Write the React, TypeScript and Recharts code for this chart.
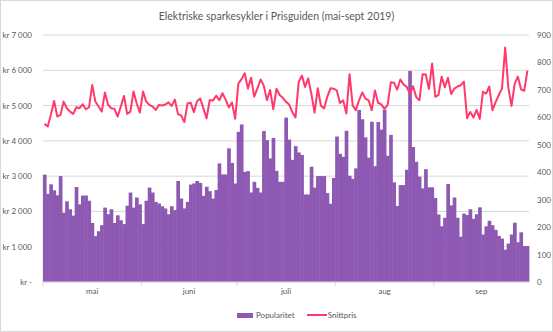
import React from "react";
import { ComposedChart, Bar, Line, XAxis, YAxis, CartesianGrid } from "recharts";

const monthNames = ["mai", "juni", "juli", "aug", "sep"];
const monthNumbers = [5, 6, 7, 8, 9];
const monthDays = [31, 30, 31, 31, 30];

// daily popularity (right axis)
const popularitet = [
  391, 321, 356, 334, 316, 386, 252, 294, 265, 242,
  346, 283, 315, 315, 296, 215, 167, 185, 207, 271,
  247, 265, 215, 243, 225, 211, 278, 326, 271, 308,
  283, 211, 296, 344, 326, 292, 286, 276, 268, 247,
  276, 262, 368, 304, 268, 292, 355, 359, 368, 361,
  314, 347, 331, 304, 335, 432, 392, 392, 487, 434,
  359, 547, 574, 401, 404, 326, 365, 343, 326, 550,
  517, 450, 525, 405, 365, 365, 599, 519, 445, 495,
  472, 463, 319, 319, 420, 344, 386, 386, 386, 324,
  285, 379, 530, 467, 456, 551, 387, 376, 414, 627,
  593, 527, 453, 584, 422, 583, 555, 628, 460, 536,
  363, 277, 353, 353, 409, 769, 492, 438, 384, 341,
  411, 345, 345, 306, 246, 203, 234, 357, 279, 308,
  234, 165, 249, 244, 265, 230, 247, 272, 173, 203,
  223, 207, 190, 168, 158, 118, 140, 173, 216, 145,
  181, 131, 131,
];

// daily average price in kr (left axis)
const snittpris = [
  4481, 4406, 4750, 5132, 4689, 4736, 5113, 4925, 4830, 4764,
  4953, 4925, 5038, 4896, 4953, 5585, 5113, 4972, 4830, 5368,
  5019, 4925, 4906, 4689, 4972, 5274, 4764, 4830, 5396, 5066,
  4802, 5396, 5113, 5019, 4972, 4877, 5019, 5000, 5030, 5090,
  4990, 5170, 4760, 4720, 4530, 5060, 5080, 4815, 5125, 5200,
  4920, 4636, 5160, 5140, 5280, 5150, 5350, 5170, 4950, 5085,
  4625, 5620, 5750, 5915, 5480, 5790, 5255, 5485, 5740, 5565,
  5155, 5440, 4895, 5475, 5300, 5220, 5105, 5030, 4810, 4664,
  5670, 5850, 5530, 5770, 5320, 4800, 5490, 4995, 4918, 5247,
  5490, 5480, 5430, 5075, 5150, 4776, 5890, 5000, 4870, 5150,
  5370, 5196, 5150, 4870, 5430, 5080, 5035, 4908, 5020, 5660,
  5650, 5450, 5740, 5600, 5530, 5330, 5550, 5240, 5150, 5890,
  5880, 5470, 6190, 5250, 5295, 5820, 5520, 5785, 5325, 5480,
  5540, 5575, 5680, 4640, 4820, 4660, 4880, 4620, 5390, 5340,
  5540, 4870, 5100, 5300, 5480, 6645, 5500, 4990, 5620, 5820,
  5460, 5420, 5990,
];

const krTicks = [0, 1000, 2000, 3000, 4000, 5000, 6000, 7000];
const popTicks = [0, 100, 200, 300, 400, 500, 600, 700, 800, 900];

const days = monthDays.flatMap((n, m) =>
  Array.from({ length: n }, (_, d) => `${d + 1}.${monthNumbers[m]}`)
);
const data = days.map((day, i) => ({
  day,
  Popularitet: popularitet[i],
  Snittpris: snittpris[i],
}));
const monthStarts = monthNumbers.map((m) => `1.${m}`);

const W = 553;
const H = 332;
const LEFT_W = 43;
const RIGHT_W = 24;
const BAND = (W - LEFT_W - RIGHT_W) / data.length;

const TEXT = "#595959";
const GRID = "#d9d9d9";
const PURPLE = "#8d59b3";
const RED = "#ff3a6a";

const fmtKr = (v: number) =>
  v === 0 ? "kr -" : "kr " + String(v).replace(/\B(?=(\d{3})+(?!\d))/g, "\u00a0");

function MonthTick({ x, y, payload }: any) {
  const m = monthStarts.indexOf(payload.value);
  const x0 = x - BAND / 2;
  const cx = x0 + (monthDays[m] * BAND) / 2;
  return (
    <g>
      <line x1={x0} x2={x0} y1={y} y2={y + 4} stroke={GRID} />
      <text x={cx} y={y + 12} textAnchor="middle" fill={TEXT} fontSize={8}>
        {monthNames[m]}
      </text>
    </g>
  );
}

function KrTick({ x, y, payload }: any) {
  return (
    <text x={x} y={y + 3} textAnchor="end" fill={TEXT} fontSize={8}>
      {fmtKr(payload.value)}
    </text>
  );
}

function PopTick({ x, y, payload }: any) {
  return (
    <text x={x} y={y + 3} textAnchor="start" fill={TEXT} fontSize={8}>
      {payload.value}
    </text>
  );
}

// gap width 0: fill the whole day band, with a small overlap so no seams show
function DayBar({ x, y, width, height }: any) {
  if (!height) return null;
  const cx = x + width / 2;
  return (
    <rect x={cx - BAND / 2} y={y} width={BAND + 0.5} height={height} fill={PURPLE} />
  );
}

export default function App() {
  return (
    <div
      style={{
        position: "absolute",
        left: 0,
        top: 0,
        width: W,
        height: H,
        background: "#fff",
        fontFamily: "Lato, sans-serif",
      }}
    >
      <div
        style={{
          position: "absolute",
          top: 9,
          left: 0,
          width: W,
          textAlign: "center",
          fontSize: 10.5,
          lineHeight: "14px",
          color: TEXT,
        }}
      >
        Elektriske sparkesykler i Prisguiden (mai-sept 2019)
      </div>

      <ComposedChart
        width={W}
        height={H}
        data={data}
        margin={{ top: 35, right: 0, left: 0, bottom: 30 }}
        barCategoryGap="0%"
        barGap={0}
      >
        <CartesianGrid yAxisId="kr" vertical={false} stroke={GRID} />
        <XAxis
          dataKey="day"
          ticks={monthStarts}
          interval={0}
          height={20}
          tickSize={0}
          tickMargin={0}
          tickLine={false}
          axisLine={{ stroke: GRID }}
          tick={<MonthTick />}
        />
        <YAxis
          yAxisId="kr"
          width={LEFT_W}
          domain={[0, 7000]}
          ticks={krTicks}
          interval={0}
          axisLine={false}
          tickLine={false}
          tickSize={6}
          tickMargin={5}
          tick={<KrTick />}
        />
        <YAxis
          yAxisId="pop"
          orientation="right"
          width={RIGHT_W}
          domain={[0, 900]}
          ticks={popTicks}
          interval={0}
          axisLine={false}
          tickLine={false}
          tickSize={6}
          tickMargin={2}
          tick={<PopTick />}
        />
        <Bar
          yAxisId="pop"
          dataKey="Popularitet"
          fill={PURPLE}
          shape={<DayBar />}
          isAnimationActive={false}
        />
        <Line
          yAxisId="kr"
          dataKey="Snittpris"
          type="linear"
          stroke={RED}
          strokeWidth={2}
          dot={false}
          activeDot={false}
          strokeLinejoin="round"
          isAnimationActive={false}
        />
      </ComposedChart>

      <div
        style={{
          position: "absolute",
          top: 309,
          left: 237,
          height: 12,
          display: "flex",
          alignItems: "center",
          fontSize: 8,
          color: TEXT,
        }}
      >
        <span style={{ width: 16, height: 5, background: PURPLE, marginRight: 3 }} />
        <span>Popularitet</span>
        <span style={{ width: 20, height: 2, background: RED, marginLeft: 12, marginRight: 1 }} />
        <span>Snittpris</span>
      </div>

      <div
        style={{
          position: "absolute",
          left: 0,
          top: 0,
          width: W,
          height: H,
          boxSizing: "border-box",
          border: `1px solid ${GRID}`,
          pointerEvents: "none",
        }}
      />
    </div>
  );
}
